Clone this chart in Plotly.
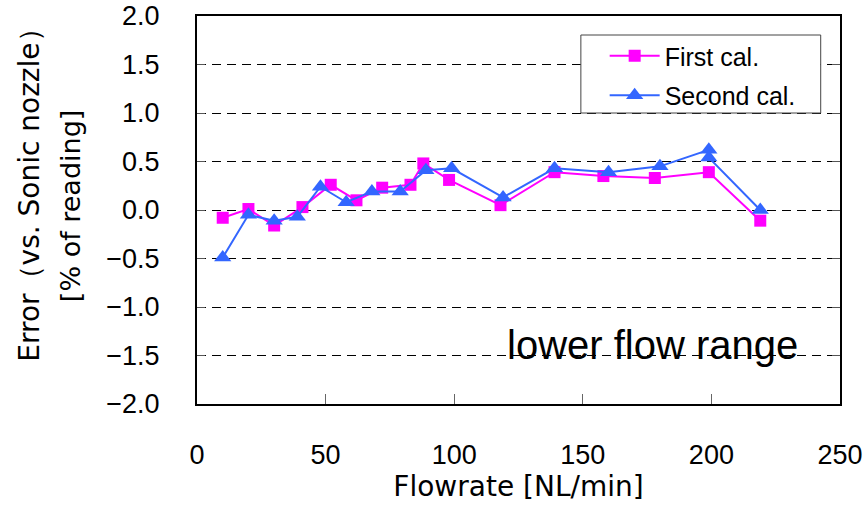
import plotly.graph_objects as go

# First calibration (magenta squares)
first_x = [10, 20, 30, 41, 52, 62, 72, 83, 88, 98, 118, 139, 158, 178, 199, 219]
first_y = [-0.08, 0.01, -0.16, 0.03, 0.26, 0.10, 0.23, 0.26, 0.48, 0.31, 0.05, 0.39, 0.35, 0.33, 0.39, -0.11]

# Second calibration (blue triangles)
second_x = [10, 20, 30, 39, 48, 58, 68, 79, 89, 99, 119, 139, 160, 180, 199, 199, 219]
second_y = [-0.49, -0.05, -0.11, -0.07, 0.24, 0.08, 0.19, 0.19, 0.41, 0.43, 0.13, 0.43, 0.39, 0.45, 0.62, 0.54, 0.00]

x_ticks = [0, 50, 100, 150, 200, 250]
y_ticks = [-2.0, -1.5, -1.0, -0.5, 0.0, 0.5, 1.0, 1.5, 2.0]

FONT = "Liberation Sans"
TFONT = "DejaVu Sans"
MAGENTA = "#FF00FF"
BLUE = "#3366FF"

fig = go.Figure()
fig.add_trace(go.Scatter(
    x=first_x, y=first_y, mode="lines+markers", name="First cal.",
    legendgroup="a",
    line=dict(color=MAGENTA, width=2),
    marker=dict(symbol="square", size=12, color=MAGENTA),
))
fig.add_trace(go.Scatter(
    x=second_x, y=second_y, mode="lines+markers", name="Second cal.",
    legendgroup="b",
    line=dict(color=BLUE, width=2),
    marker=dict(symbol="triangle-up", size=15, color=BLUE),
))

fig.update_layout(
    width=866, height=508,
    margin=dict(l=197, r=26, t=16, b=104),
    paper_bgcolor="white", plot_bgcolor="white",
    font=dict(family=FONT, size=26, color="black"),
    showlegend=True,
    legend=dict(
        x=0.634, y=0.956, xanchor="left", yanchor="top",
        borderwidth=0, bgcolor="rgba(0,0,0,0)",
        font=dict(family=FONT, size=25),
        tracegroupgap=4, itemwidth=50,
    ),
    shapes=[dict(
        type="rect", xref="paper", yref="paper",
        x0=0.597, x1=0.970, y0=0.750, y1=0.951,
        line=dict(color="#444", width=1), fillcolor="white", layer="above",
    )],
    annotations=[
        dict(
            x=0.709, y=0.152, xref="paper", yref="paper",
            text="lower flow range", showarrow=False,
            font=dict(family=FONT, size=40, color="black"),
            xanchor="center", yanchor="middle",
        ),
        dict(
            x=-0.2597, y=0.555, xref="paper", yref="paper",
            text="Error\uff08vs. Sonic nozzle\uff09", showarrow=False, textangle=-90,
            font=dict(family=TFONT, size=28, color="black"),
            xanchor="center", yanchor="middle",
        ),
        dict(
            x=-0.1975, y=0.51, xref="paper", yref="paper",
            text="[% of reading]", showarrow=False, textangle=-90,
            font=dict(family=TFONT, size=27, color="black"),
            xanchor="center", yanchor="middle",
        ),
    ],
)

fig.update_xaxes(
    range=[0, 250], tickvals=x_ticks, ticktext=[str(v) for v in x_ticks],
    tickfont=dict(size=27), automargin=False,
    showline=True, linecolor="black", linewidth=2, mirror=True,
    ticks="inside", ticklen=10, tickcolor="#666", tickwidth=1,
    showgrid=False, zeroline=False,
    ticklabelstandoff=26,
    title=dict(text="Flowrate [NL/min]", font=dict(family=TFONT, size=28), standoff=2),
)
fig.update_yaxes(
    range=[-2.0, 2.0], tickvals=y_ticks, ticktext=[f"{v:.1f}".replace("-", "\u2212") for v in y_ticks],
    tickfont=dict(size=27), automargin=False,
    showline=True, linecolor="black", linewidth=2, mirror="ticks",
    ticks="inside", ticklen=8, tickcolor="#555", tickwidth=1,
    showgrid=True, gridcolor="black", gridwidth=1, griddash="9px,6px",
    zeroline=False,
    ticklabelstandoff=30,
)

fig.write_html("out.html")
